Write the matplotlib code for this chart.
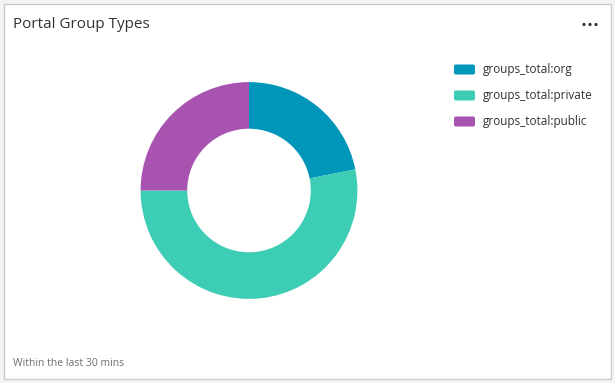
import matplotlib.pyplot as plt
from matplotlib.patches import FancyBboxPatch, Rectangle, Circle

labels = ['groups_total:org', 'groups_total:private', 'groups_total:public']
values = [7, 17, 8]
colors = ['#0096ba', '#3dcdb4', '#a853b0']

W, H = 615, 383
fig = plt.figure(figsize=(W / 100, H / 100), dpi=100)
fig.patch.set_facecolor('#f4f4f4')
plt.rcParams['font.family'] = ['Open Sans', 'DejaVu Sans']

# card background
bg = fig.add_axes([0, 0, 1, 1])
bg.set_xlim(0, W)
bg.set_ylim(H, 0)
bg.axis('off')
bg.add_patch(Rectangle((3.5, 3.5), 607.5, 375, facecolor='white',
                       edgecolor='#cacaca', linewidth=1))

bg.text(13, 24, 'Portal Group Types', fontsize=11, color='#323232', va='center')
for dx in (-6, 0, 6):
    bg.add_patch(Circle((590 + dx, 24.5), 1.6, facecolor='#323232', edgecolor='none'))
bg.text(13, 363, 'Within the last 30 mins', fontsize=7.5, color='#6e6e6e', va='center')

# legend
for i, (lab, c) in enumerate(zip(labels, colors)):
    y = 69.5 + i * 26
    bg.add_patch(FancyBboxPatch((454, y - 5), 21, 10,
                                boxstyle='round,pad=0,rounding_size=2',
                                facecolor=c, edgecolor='none'))
    bg.text(483, y, lab, fontsize=8.5, color='#323232', va='center')

# donut
cx, cy, r = 249, 190.5, 108.4
ax = fig.add_axes([(cx - r) / W, 1 - (cy + r) / H, 2 * r / W, 2 * r / H])
ax.pie(values, colors=colors, startangle=90, counterclock=False,
       wedgeprops=dict(width=0.43, edgecolor='none'), radius=1)
ax.set_xlim(-1, 1)
ax.set_ylim(-1, 1)
ax.set_aspect('equal')
ax.axis('off')

fig.savefig('out.png', dpi=100, facecolor=fig.get_facecolor())
